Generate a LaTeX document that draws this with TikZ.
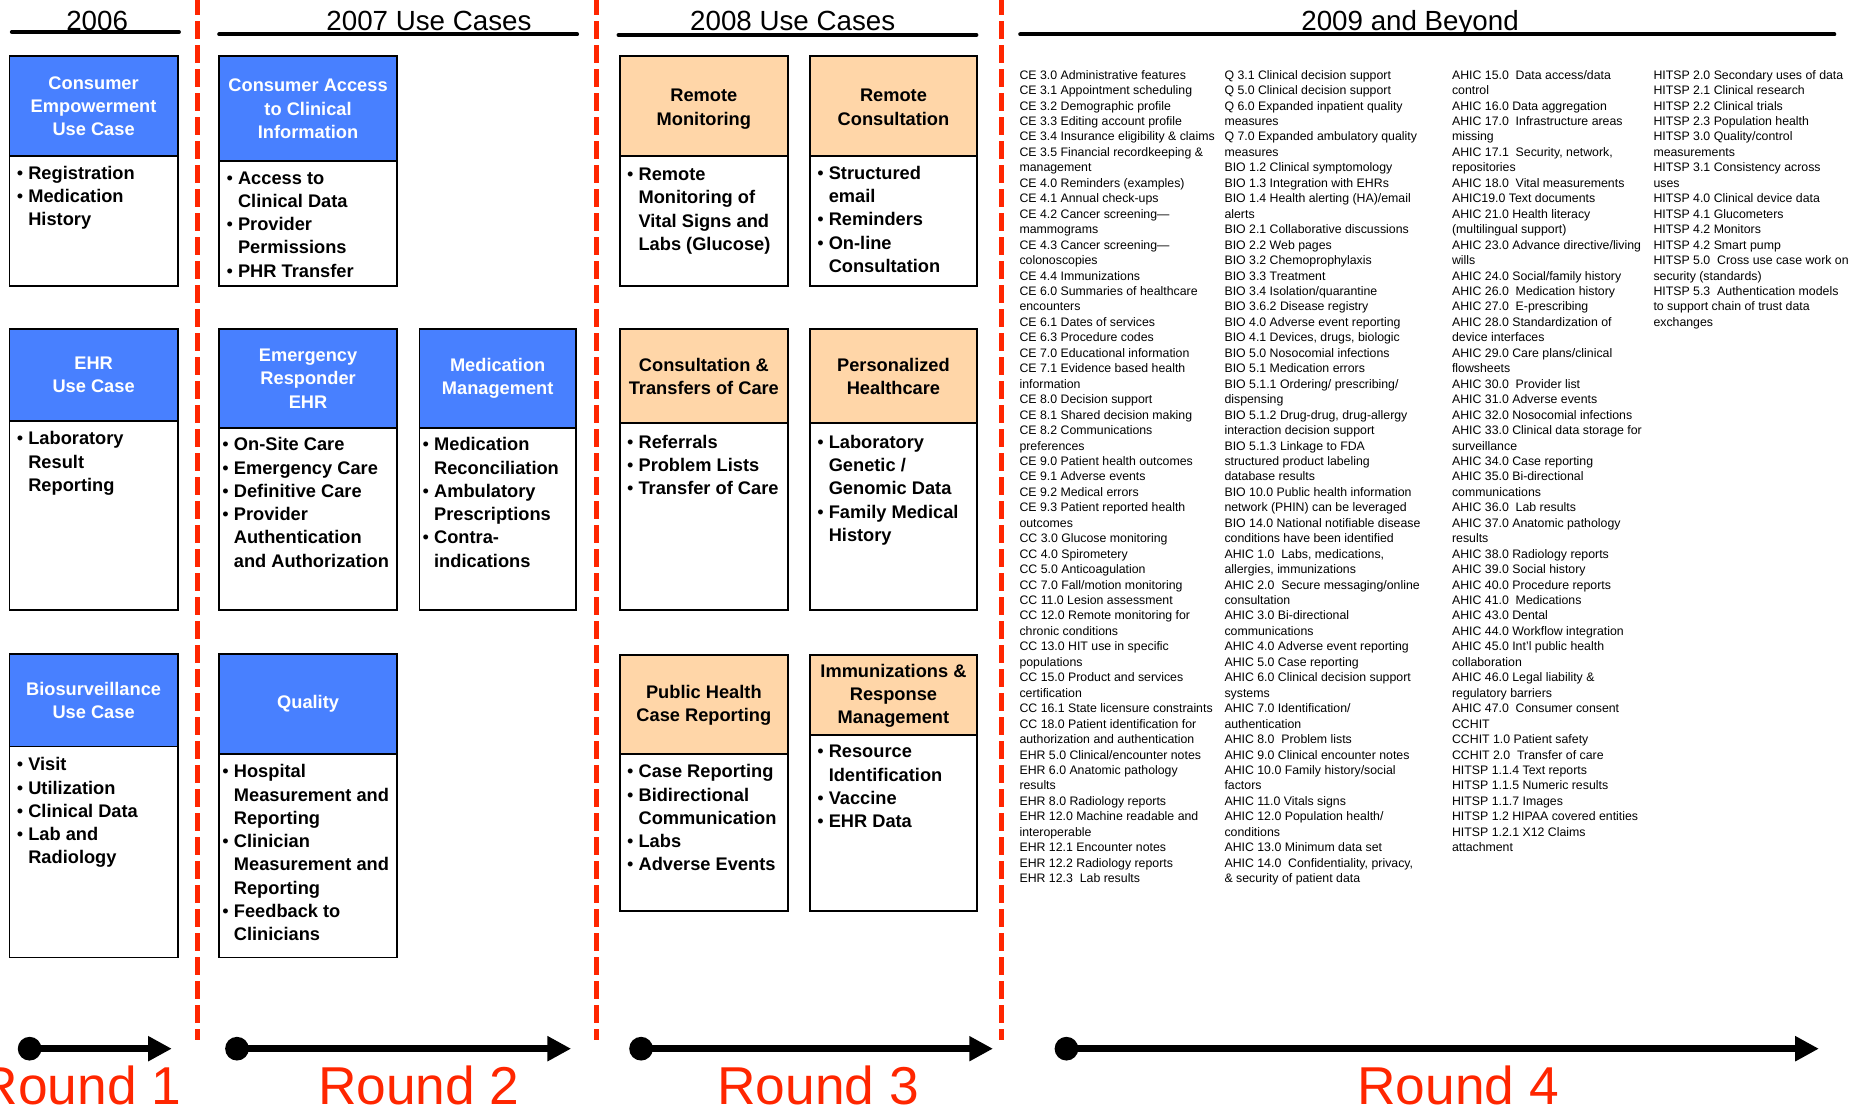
\documentclass[tikz,border=0pt]{standalone}
\usepackage{fontspec}
\setmainfont{Liberation Sans}
\usetikzlibrary{arrows.meta}
\definecolor{hdrblue}{RGB}{72,128,255}
\definecolor{hdrorange}{RGB}{255,214,168}
\definecolor{redc}{RGB}{255,38,0}
\newcommand\hfnt{\fontsize{7.7}{9.8}\selectfont\bfseries}
\newcommand\sfnt{\fontsize{5.2}{6.52}\selectfont}
\newcommand\tfnt{\fontsize{11.7}{14}\selectfont}
\newcommand\rfnt{\fontsize{22.5}{26}\selectfont}
\newcommand\bulx{\makebox[4.85pt][l]{\mdseries•}}
\newcommand\indx{\hspace*{4.85pt}}
\tikzset{
  bluefill/.style={fill=hdrblue},
  orangefill/.style={fill=hdrorange},
  bluetxt/.style={text=white},
  orangetxt/.style={text=black},
  boxline/.style={draw=black,line width=0.8pt},
  hdrtxt/.style={font=\hfnt,align=center,inner sep=0pt},
  bodytxt/.style={font=\hfnt,anchor=base west,inner sep=0pt},
  coltxt/.style={font=\sfnt,anchor=base west,inner sep=0pt},
  ttl/.style={font=\tfnt,anchor=base,inner sep=0pt},
  rulex/.style={line width=1.7pt,line cap=round},
  reddash/.style={draw=redc,line width=2.1pt,dash pattern=on 7.5pt off 2.625pt},
  tline/.style={line width=2.8pt,-{Triangle[length=10pt,width=10pt]}},
  rnd/.style={font=\rfnt,text=redc,anchor=base,inner sep=0pt},
}
\newcommand\ucbox[9]{%
  \fill[#7fill] (#2,#4) rectangle (#3,#5);
  \draw[boxline] (#2,#4) rectangle (#3,#6);
  \draw[boxline] (#2,#5) -- (#3,#5);
  \node[hdrtxt,#7txt,#9] (#1) at ({(#2+#3)/2},{(#4+#5)/2}) {#8};
}
\newcommand\ucbody[4]{\node[bodytxt] (#1) at (#2,#3) {\begin{tabular}[t]{@{}l@{}}#4\end{tabular}};}
\begin{document}
\begin{tikzpicture}[x=0.5pt,y=-0.5pt]
\fill[white] (0,0) rectangle (1568,938);
\useasboundingbox (0,0) rectangle (1568,938);

% section titles
\node[ttl] (t06) at (82,25.5) {2006};
\node[ttl] (t07) at (362,25.5) {2007 Use Cases};
\node[ttl] (t08) at (669,25.5) {2008 Use Cases};
\node[ttl] (t09) at (1190,25.5) {2009 and Beyond};
\draw[rulex] (10,27) -- (151,27);
\draw[rulex] (185,29) -- (487,29);
\draw[rulex] (522,29.5) -- (824,29.5);
\draw[rulex] (861,29) -- (1548,29);

% red separators
\draw[reddash] (167,-2.3) -- (167,878);
\draw[reddash] (503,-2.3) -- (503,878);
\draw[reddash] (845,-2.3) -- (845,878);

% 2006
\ucbox{a1}{8}{150}{47.5}{131.5}{241.5}{blue}{Consumer\\Empowerment\\Use Case}{}
\ucbody{a1b}{13.8}{151.5}{\bulx Registration\\\bulx Medication\\\indx History}
\ucbox{a2}{8}{150}{278}{355}{515}{blue}{EHR\\Use Case}{}
\ucbody{a2b}{13.8}{375.5}{\bulx Laboratory\\\indx Result\\\indx Reporting}
\ucbox{a3}{8}{150}{552}{630}{808}{blue}{Biosurveillance\\Use Case}{}
\ucbody{a3b}{13.8}{650.5}{\bulx Visit\\\bulx Utilization\\\bulx Clinical Data\\\bulx Lab and\\\indx Radiology}

% 2007
\ucbox{b1}{185}{335}{47.5}{136}{241.5}{blue}{Consumer Access\\to Clinical\\Information}{}
\ucbody{b1b}{190.8}{155.5}{\bulx Access to\\\indx Clinical Data\\\bulx Provider\\\indx Permissions\\\bulx PHR Transfer}
\ucbox{b2}{185}{335}{278}{361}{515}{blue}{Emergency\\Responder\\EHR}{}
\ucbody{b2b}{187.3}{380.5}{\bulx On-Site Care\\\bulx Emergency Care\\\bulx Definitive Care\\\bulx Provider\\\indx Authentication\\\indx and Authorization}
\ucbox{b3}{185}{335}{552}{636}{808}{blue}{Quality}{}
\ucbody{b3b}{187.3}{656.5}{\bulx Hospital\\\indx Measurement and\\\indx Reporting\\\bulx Clinician\\\indx Measurement and\\\indx Reporting\\\bulx Feedback to\\\indx Clinicians}
\ucbox{c2}{354}{486}{278}{361}{515}{blue}{Medication\\Management}{}
\ucbody{c2b}{356.3}{380.5}{\bulx Medication\\\indx Reconciliation\\\bulx Ambulatory\\\indx Prescriptions\\\bulx Contra-\\\indx indications}

% 2008
\ucbox{d1}{523}{665}{47.5}{131.5}{241.5}{orange}{Remote\\Monitoring}{yshift=-1.3pt}
\ucbody{d1b}{528.8}{152.5}{\bulx Remote\\\indx Monitoring of\\\indx Vital Signs and\\\indx Labs (Glucose)}
\ucbox{d2}{523}{665}{278}{357}{515}{orange}{Consultation \&\\Transfers of Care}{}
\ucbody{d2b}{528.8}{378.5}{\bulx Referrals\\\bulx Problem Lists\\\bulx Transfer of Care}
\ucbox{d3}{523}{665}{552.5}{636.5}{769}{orange}{Public Health\\Case Reporting}{yshift=-0.4pt}
\ucbody{d3b}{528.8}{656.5}{\bulx Case Reporting\\\bulx Bidirectional\\\indx Communication\\\bulx Labs\\\bulx Adverse Events}
\ucbox{e1}{683.5}{824.5}{47.5}{131.5}{241.5}{orange}{Remote\\Consultation}{yshift=-0.5pt}
\ucbody{e1b}{689.3}{151.5}{\bulx Structured\\\indx email\\\bulx Reminders\\\bulx On-line\\\indx Consultation}
\ucbox{e2}{683.5}{824.5}{278}{357}{515}{orange}{Personalized\\Healthcare}{}
\ucbody{e2b}{689.3}{378.5}{\bulx Laboratory\\\indx Genetic /\\\indx Genomic Data\\\bulx Family Medical\\\indx History}
\ucbox{e3}{683.5}{824.5}{552.5}{620}{769}{orange}{Immunizations \&\\Response\\Management}{yshift=-0.4pt}
\ucbody{e3b}{689.3}{639.5}{\bulx Resource\\\indx Identification\\\bulx Vaccine\\\bulx EHR Data}

% 2009 and beyond
\node[coltxt] (colA) at (860,66.8) {\begin{tabular}[t]{@{}l@{}}
CE 3.0 Administrative features\\
CE 3.1 Appointment scheduling\\
CE 3.2 Demographic profile\\
CE 3.3 Editing account profile\\
CE 3.4 Insurance eligibility \& claims\\
CE 3.5 Financial recordkeeping \&\\
management\\
CE 4.0 Reminders (examples)\\
CE 4.1 Annual check-ups\\
CE 4.2 Cancer screening—\\
mammograms\\
CE 4.3 Cancer screening—\\
colonoscopies\\
CE 4.4 Immunizations\\
CE 6.0 Summaries of healthcare\\
encounters\\
CE 6.1 Dates of services\\
CE 6.3 Procedure codes\\
CE 7.0 Educational information\\
CE 7.1 Evidence based health\\
information\\
CE 8.0 Decision support\\
CE 8.1 Shared decision making\\
CE 8.2 Communications\\
preferences\\
CE 9.0 Patient health outcomes\\
CE 9.1 Adverse events\\
CE 9.2 Medical errors\\
CE 9.3 Patient reported health\\
outcomes\\
CC 3.0 Glucose monitoring\\
CC 4.0 Spirometery\\
CC 5.0 Anticoagulation\\
CC 7.0 Fall/motion monitoring\\
CC 11.0 Lesion assessment\\
CC 12.0 Remote monitoring for\\
chronic conditions\\
CC 13.0 HIT use in specific\\
populations\\
CC 15.0 Product and services\\
certification\\
CC 16.1 State licensure constraints\\
CC 18.0 Patient identification for\\
authorization and authentication\\
EHR 5.0 Clinical/encounter notes\\
EHR 6.0 Anatomic pathology\\
results\\
EHR 8.0 Radiology reports\\
EHR 12.0 Machine readable and\\
interoperable\\
EHR 12.1 Encounter notes\\
EHR 12.2 Radiology reports\\
EHR 12.3~ Lab results
\end{tabular}};
\node[coltxt] (colB) at (1033,66.8) {\begin{tabular}[t]{@{}l@{}}
Q 3.1 Clinical decision support\\
Q 5.0 Clinical decision support\\
Q 6.0 Expanded inpatient quality\\
measures\\
Q 7.0 Expanded ambulatory quality\\
measures\\
BIO 1.2 Clinical symptomology\\
BIO 1.3 Integration with EHRs\\
BIO 1.4 Health alerting (HA)/email\\
alerts\\
BIO 2.1 Collaborative discussions\\
BIO 2.2 Web pages\\
BIO 3.2 Chemoprophylaxis\\
BIO 3.3 Treatment\\
BIO 3.4 Isolation/quarantine\\
BIO 3.6.2 Disease registry\\
BIO 4.0 Adverse event reporting\\
BIO 4.1 Devices, drugs, biologic\\
BIO 5.0 Nosocomial infections\\
BIO 5.1 Medication errors\\
BIO 5.1.1 Ordering/ prescribing/\\
dispensing\\
BIO 5.1.2 Drug-drug, drug-allergy\\
interaction decision support\\
BIO 5.1.3 Linkage to FDA\\
structured product labeling\\
database results\\
BIO 10.0 Public health information\\
network (PHIN) can be leveraged\\
BIO 14.0 National notifiable disease\\
conditions have been identified\\
AHIC 1.0~ Labs, medications,\\
allergies, immunizations\\
AHIC 2.0~ Secure messaging/online\\
consultation\\
AHIC 3.0 Bi-directional\\
communications\\
AHIC 4.0 Adverse event reporting\\
AHIC 5.0 Case reporting\\
AHIC 6.0 Clinical decision support\\
systems\\
AHIC 7.0 Identification/\\
authentication\\
AHIC 8.0~ Problem lists\\
AHIC 9.0 Clinical encounter notes\\
AHIC 10.0 Family history/social\\
factors\\
AHIC 11.0 Vitals signs\\
AHIC 12.0 Population health/\\
conditions\\
AHIC 13.0 Minimum data set\\
AHIC 14.0~ Confidentiality, privacy,\\
\& security of patient data
\end{tabular}};
\node[coltxt] (colC) at (1225,66.8) {\begin{tabular}[t]{@{}l@{}}
AHIC 15.0~ Data access/data\\
control\\
AHIC 16.0 Data aggregation\\
AHIC 17.0~ Infrastructure areas\\
missing\\
AHIC 17.1~ Security, network,\\
repositories\\
AHIC 18.0~ Vital measurements\\
AHIC19.0 Text documents\\
AHIC 21.0 Health literacy\\
(multilingual support)\\
AHIC 23.0 Advance directive/living\\
wills\\
AHIC 24.0 Social/family history\\
AHIC 26.0~ Medication history\\
AHIC 27.0~ E-prescribing\\
AHIC 28.0 Standardization of\\
device interfaces\\
AHIC 29.0 Care plans/clinical\\
flowsheets\\
AHIC 30.0~ Provider list\\
AHIC 31.0 Adverse events\\
AHIC 32.0 Nosocomial infections\\
AHIC 33.0 Clinical data storage for\\
surveillance\\
AHIC 34.0 Case reporting\\
AHIC 35.0 Bi-directional\\
communications\\
AHIC 36.0~ Lab results\\
AHIC 37.0 Anatomic pathology\\
results\\
AHIC 38.0 Radiology reports\\
AHIC 39.0 Social history\\
AHIC 40.0 Procedure reports\\
AHIC 41.0~ Medications\\
AHIC 43.0 Dental\\
AHIC 44.0 Workflow integration\\
AHIC 45.0 Int’l public health\\
collaboration\\
AHIC 46.0 Legal liability \&\\
regulatory barriers\\
AHIC 47.0~ Consumer consent\\
CCHIT\\
CCHIT 1.0 Patient safety\\
CCHIT 2.0~ Transfer of care\\
HITSP 1.1.4 Text reports\\
HITSP 1.1.5 Numeric results\\
HITSP 1.1.7 Images\\
HITSP 1.2 HIPAA covered entities\\
HITSP 1.2.1 X12 Claims\\
attachment
\end{tabular}};
\node[coltxt] (colD) at (1395,66.8) {\begin{tabular}[t]{@{}l@{}}
HITSP 2.0 Secondary uses of data\\
HITSP 2.1 Clinical research\\
HITSP 2.2 Clinical trials\\
HITSP 2.3 Population health\\
HITSP 3.0 Quality/control\\
measurements\\
HITSP 3.1 Consistency across\\
uses\\
HITSP 4.0 Clinical device data\\
HITSP 4.1 Glucometers\\
HITSP 4.2 Monitors\\
HITSP 4.2 Smart pump\\
HITSP 5.0~ Cross use case work on\\
security (standards)\\
HITSP 5.3~ Authentication models\\
to support chain of trust data\\
exchanges
\end{tabular}};

% timeline arrows
\coordinate (r1a) at (25,885);   \coordinate (r1b) at (145,885);
\coordinate (r2a) at (200,885);  \coordinate (r2b) at (482,885);
\coordinate (r3a) at (541,885);  \coordinate (r3b) at (838,885);
\coordinate (r4a) at (900,885);  \coordinate (r4b) at (1535,885);
\draw[tline] (r1a) -- (r1b);
\draw[tline] (r2a) -- (r2b);
\draw[tline] (r3a) -- (r3b);
\draw[tline] (r4a) -- (r4b);
\fill (r1a) circle[radius=5pt];
\fill (r2a) circle[radius=5pt];
\fill (r3a) circle[radius=5pt];
\fill (r4a) circle[radius=5pt];

\node[rnd] (rl1) at (68,932.5) {Round 1};
\node[rnd] (rl2) at (353.5,932.5) {Round 2};
\node[rnd] (rl3) at (690.5,932.5) {Round 3};
\node[rnd] (rl4) at (1230.5,932.5) {Round 4};
\end{tikzpicture}
\end{document}
